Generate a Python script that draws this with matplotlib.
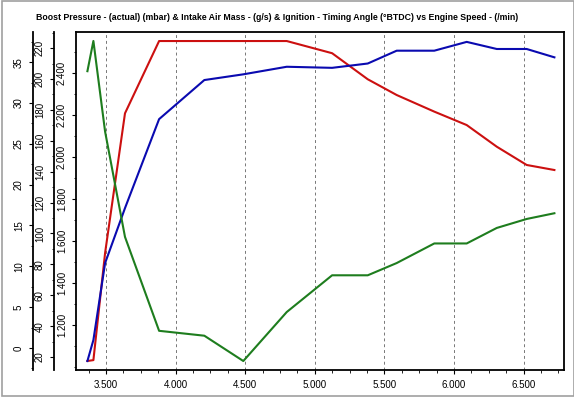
import matplotlib
matplotlib.use("Agg")
import matplotlib.pyplot as plt
from matplotlib.ticker import FuncFormatter, MultipleLocator
from matplotlib.patches import Rectangle

plt.rcParams['font.family'] = ['Liberation Sans', 'DejaVu Sans']

title = "Boost Pressure - (actual) (mbar) & Intake Air Mass - (g/s) & Ignition - Timing Angle (°BTDC) vs Engine Speed - (/min)"

rpm = [3366, 3409, 3493, 3636, 3881, 4206, 4486, 4798, 5124, 5380, 5588, 5858, 6091, 6307, 6522, 6721]
boost = [1029, 1033, 1543, 2208, 2552, 2552, 2552, 2552, 2494, 2370, 2295, 2216, 2152, 2049, 1962, 1938]
air_mass = [17.4, 31, 80.8, 116.4, 174, 199.3, 203, 207.9, 207.2, 210, 218.3, 218.3, 224, 219.4, 219.4, 214]
timing = [33.9, 37.6, 26.5, 13.6, 2.1, 1.5, -1.6, 4.4, 8.9, 8.9, 10.4, 12.8, 12.8, 14.7, 15.8, 16.5]

x_ticks = [3500, 4000, 4500, 5000, 5500, 6000, 6500]
boost_ticks = [1200, 1400, 1600, 1800, 2000, 2200, 2400]
air_ticks = [20, 40, 60, 80, 100, 120, 140, 160, 180, 200, 220]
timing_ticks = [0, 5, 10, 15, 20, 25, 30, 35]

W, H = 574, 401
fig = plt.figure(figsize=(W / 100, H / 100), dpi=100)
fig.patch.set_facecolor('white')

L, R, T, B = 76, 564, 32, 370
rect = [L / W, 1 - B / H, (R - L) / W, (B - T) / H]
ax = fig.add_axes(rect)
ax_b = ax.twinx()
ax_g = ax.twinx()

fmt = FuncFormatter(lambda v, p: f"{v:,.0f}".replace(',', '.'))

red = '#cc1010'
blue = '#0a0ab0'
green = '#1e7d1e'

ax.plot(rpm, boost, color=red, lw=1.5, zorder=3)
ax_b.plot(rpm, air_mass, color=blue, lw=1.5, zorder=3)
ax_g.plot(rpm, timing, color=green, lw=1.5, zorder=3)

ax.set_xlim(3284, 6790)
ax.set_ylim(986, 2595)
ax_b.set_ylim(11.6, 230.4)
ax_g.set_ylim(-2.7, 38.7)

ax.set_xticks(x_ticks)
ax.xaxis.set_major_formatter(fmt)
ax.xaxis.set_minor_locator(MultipleLocator(125))
ax.grid(axis='x', color='#777777', linestyle=(0, (3, 3)), lw=0.7)

ax.set_yticks(boost_ticks)
ax.yaxis.set_major_formatter(fmt)
ax.yaxis.set_minor_locator(MultipleLocator(100))
ax_b.set_yticks(air_ticks)
ax_b.yaxis.set_minor_locator(MultipleLocator(10))
ax_g.set_yticks(timing_ticks)
ax_g.yaxis.set_minor_locator(MultipleLocator(2.5))

for a, off in ((ax_b, 22 * 0.72), (ax_g, 43 * 0.72)):
    a.yaxis.set_ticks_position('left')
    a.yaxis.set_label_position('left')
    a.spines['left'].set_visible(True)
    a.spines['left'].set_position(('outward', off))
    for s in ('right', 'top', 'bottom'):
        a.spines[s].set_visible(False)
    a.patch.set_visible(False)

for a in (ax, ax_b, ax_g):
    for s in a.spines.values():
        s.set_linewidth(1.3)
        s.set_color('black')
    a.tick_params(axis='y', which='major', direction='out', length=3, width=0.8,
                  pad=3.5, labelsize=7, labelrotation=90, colors='black')
    a.tick_params(axis='y', which='minor', direction='out', length=1.5, width=0.6)
    for lbl in a.get_yticklabels():
        lbl.set_va('center')
        lbl.set_ha('right')

ax.tick_params(axis='x', which='major', direction='out', length=3, width=0.8, pad=4, labelsize=7)
ax.tick_params(axis='x', which='minor', direction='out', length=2, width=0.6)

fig.text(277 / W, 1 - 17 / H, title, ha='center', va='center', fontsize=6.3,
         fontweight='bold', color='black')

fig.patches.append(Rectangle((2 / W, 1 - 396 / H), (W - 2) / W, (395) / H,
                             transform=fig.transFigure, fill=False,
                             edgecolor='#a0a0a0', lw=1.2))

fig.savefig('out.png', dpi=100, facecolor='white')
